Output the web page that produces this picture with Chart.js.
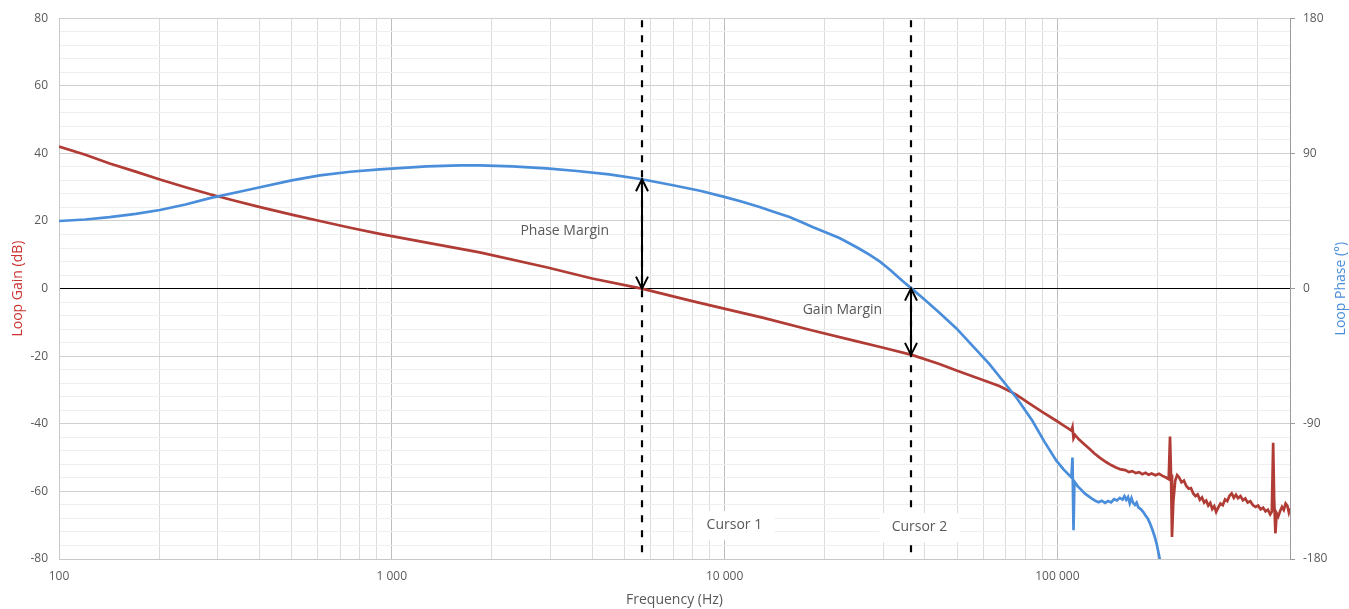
<!DOCTYPE html>
<html>
<head>
<meta charset="utf-8">
<title>Loop Gain / Loop Phase</title>
<script src="https://cdn.jsdelivr.net/npm/chart.js@4.4.0/dist/chart.umd.min.js"></script>
<style>
    body { margin: 0; background: #fff; overflow: hidden; }
    .wrap { width: 1349px; height: 609px; position: relative; }
</style>
</head>
<body>
<div class="wrap"><canvas id="bode"></canvas></div>
<script>
// Loop gain (dB)
const gainFreq = [100, 120, 142, 170, 201, 240, 284, 340, 402, 500, 608, 750, 920, 1274, 1837, 2915, 4000, 5640, 8000, 10040,
    13000, 18370, 25000, 30000, 36500, 44200, 50000, 58000, 66900, 75000, 82500, 90000, 99300, 104000, 108000, 110200,
    111000, 111800, 113000, 116000, 120000, 124800, 129000, 134000, 140000, 145000, 150000, 155000, 160000, 164000,
    168000, 172000, 176000, 180000, 184000, 188000, 192000, 197000, 202000, 207000, 212000, 216000, 218000, 219500,
    221000, 223000, 226000, 229000, 232000, 236000, 240000, 244000, 248000, 252000, 256000, 260000, 264000, 268000,
    272000, 276000, 280000, 284000, 288000, 292000, 296000, 300000, 304000, 309000, 314000, 319000, 324000, 329000,
    334000, 339000, 344000, 349000, 355000, 361000, 367000, 373000, 380000, 387000, 394000, 401000, 408000, 415000,
    422000, 429000, 436000, 441000, 445000, 448000, 452000, 456000, 461000, 467000, 473000, 479000, 485000, 491000,
    496000, 500000];
const gainDb = [42.0, 39.6, 37.0, 34.6, 32.3, 30.0, 27.9, 25.9, 24.1, 21.9, 20.0, 18.0, 16.2, 13.6, 10.7, 6.3, 3.0, 0.0, -3.7, -6.0,
    -8.6, -12.4, -15.6, -17.5, -19.6, -22.3, -24.3, -26.6, -28.8, -31.3, -34.0, -36.5, -39.1, -40.4, -41.4, -42.0,
    -41.0, -44.3, -43.3, -44.6, -45.9, -47.4, -48.7, -50.0, -51.3, -52.2, -52.9, -53.5, -53.7, -54.3,
    -54.0, -54.6, -54.3, -54.9, -54.5, -55.1, -54.7, -55.2, -54.8, -55.4, -55.9, -56.4, -43.8, -55.0,
    -73.5, -63.0, -56.8, -55.2, -55.8, -57.3, -56.8, -58.4, -59.2, -59.0, -60.6, -61.4, -60.9, -62.5,
    -61.8, -63.3, -62.7, -64.2, -63.4, -65.2, -64.4, -66.1, -64.9, -63.6, -64.1, -62.4, -62.9, -61.3,
    -60.6, -61.9, -61.0, -62.0, -61.4, -62.6, -62.1, -63.3, -62.9, -64.1, -64.6, -64.2, -65.3, -64.8,
    -65.9, -65.4, -66.8, -66.0, -45.6, -62.0, -72.4, -66.5, -67.4, -65.8, -64.6, -65.5, -63.6, -64.3,
    -66.2, -65.0];

// Loop phase (deg)
const phaseFreq = [100, 120, 142, 170, 201, 240, 284, 340, 402, 500, 608, 750, 920, 1274, 1600, 1837, 2300, 2915, 3600, 4500,
    5640, 7000, 8500, 10040, 11300, 12740, 14100, 15670, 17000, 18370, 20100, 22130, 23700, 25400, 27300, 29300, 31400,
    33600, 34900, 36500, 39870, 44220, 49740, 56340, 62500, 69800, 75840, 84100, 91400, 99300, 104500, 110200, 111000,
    111800, 112500, 115000, 118000, 121000, 124000, 127000, 130000, 133000, 136000, 139000, 142000, 145000, 148000,
    151000, 154000, 157000, 159000, 161000, 163000, 165000, 167000, 169000, 171000, 173000, 175000, 178000, 181000,
    184000, 187000, 190000, 193000, 196000, 199000, 202000, 205000, 208000];
const phaseDeg = [45.0, 46.0, 47.6, 49.8, 52.3, 56.0, 60.2, 64.0, 67.5, 72.0, 75.4, 77.8, 79.4, 81.4, 82.0, 82.0, 81.3, 80.0, 78.3, 76.0,
    72.8, 68.8, 65.0, 60.9, 57.8, 54.3, 51.0, 47.6, 44.4, 41.0, 37.5, 33.7, 30.2, 26.5, 22.4, 17.9, 12.6,
    6.8, 3.6, 0.0, -7.3, -16.0, -26.5, -39.5, -50.3, -63.5, -73.5, -88.0, -101.9, -114.5, -120.5, -125.7, -112.5,
    -160.8, -128.5, -131.5, -134.0, -136.5, -138.2, -139.8, -141.3, -142.2, -141.2, -142.6, -141.4, -142.3, -140.2,
    -141.0, -139.3, -140.5, -138.2, -140.6, -138.7, -143.0, -139.5, -142.8, -144.0, -142.5, -145.6, -146.8, -148.6,
    -151.0, -153.2, -156.5, -160.5, -165.0, -170.5, -177.5, -185.0, -192.0];

// Axes
const xLabelValues = [100, 1000, 10000, 100000];
const gainTicks = [-80, -60, -40, -20, 0, 20, 40, 60, 80];
const phaseTicks = [-180, -90, 0, 90, 180];

// Cursors and margins
const cursorFreqs = [5640, 36200];
const cursorLabels = ['Cursor 1', 'Cursor 2'];
const cursorLabelFreqs = [10700, 38500];
const cursorLabelGain = [-70, -70.6];
const phaseMarginDeg = 72.8;
const gainMarginDb = -19.6;
const marginLabels = ['Phase Margin', 'Gain Margin'];
const marginLabelFreqs = [3310, 22600];
const marginLabelGains = [17, -6.2];

const RED = '#b03c35';
const BLUE = '#4a8edb';
const TEXT = '#595959';
const FONT = "'Open Sans', 'DejaVu Sans', sans-serif";

// log grid: 1..9 x each decade
const xGridValues = [];
for (let d = 100; d <= 100000; d *= 10) {
    for (let m = 1; m <= 9; m++) {
        if (d * m <= 500000) xGridValues.push(d * m);
    }
}

function spaced(v) {
    return String(v).replace(/\B(?=(\d{3})+(?!\d))/g, ' ');
}

function drawArrow(ctx, x, y0, y1) {
    const dir = y1 > y0 ? 1 : -1;
    ctx.beginPath();
    ctx.moveTo(x, y0);
    ctx.lineTo(x, y1);
    // heads
    ctx.moveTo(x - 6, y0 + dir * 12);
    ctx.lineTo(x, y0);
    ctx.lineTo(x + 6, y0 + dir * 12);
    ctx.moveTo(x - 6, y1 - dir * 12);
    ctx.lineTo(x, y1);
    ctx.lineTo(x + 6, y1 - dir * 12);
    ctx.stroke();
}

const markupPlugin = {
    id: 'markup',
    afterDatasetsDraw(chart) {
        const { ctx, chartArea, scales } = chart;
        const xs = scales.x, yG = scales.yGain, yP = scales.yPhase;
        ctx.save();

        // cursor lines
        ctx.strokeStyle = '#000';
        ctx.lineWidth = 2.2;
        ctx.setLineDash([7, 8]);
        cursorFreqs.forEach(f => {
            const px = Math.round(xs.getPixelForValue(f));
            ctx.beginPath();
            ctx.moveTo(px, chartArea.top + 2);
            ctx.lineTo(px, chartArea.bottom);
            ctx.stroke();
        });
        ctx.setLineDash([]);

        // margin arrows
        ctx.lineWidth = 2;
        const c1 = Math.round(xs.getPixelForValue(cursorFreqs[0]));
        const c2 = Math.round(xs.getPixelForValue(cursorFreqs[1]));
        drawArrow(ctx, c1, yG.getPixelForValue(0), yP.getPixelForValue(phaseMarginDeg));
        drawArrow(ctx, c2, yP.getPixelForValue(0), yG.getPixelForValue(gainMarginDb));

        ctx.font = '14px ' + FONT;
        ctx.textAlign = 'center';
        ctx.textBaseline = 'middle';

        marginLabels.forEach((t, i) => {
            ctx.fillStyle = TEXT;
            ctx.fillText(t, xs.getPixelForValue(marginLabelFreqs[i]), yG.getPixelForValue(marginLabelGains[i]));
        });

        cursorLabels.forEach((t, i) => {
            const cx = xs.getPixelForValue(cursorLabelFreqs[i]);
            const cy = yG.getPixelForValue(cursorLabelGain[i]);
            ctx.fillStyle = '#fff';
            ctx.fillRect(cx - 40, cy - 14, 80, 29);
            ctx.fillStyle = TEXT;
            ctx.fillText(t, cx, cy);
        });

        // right axis title, reading bottom to top
        ctx.translate(yP.right - 8, (chartArea.top + chartArea.bottom) / 2);
        ctx.rotate(-Math.PI / 2);
        ctx.fillStyle = BLUE;
        ctx.fillText('Loop Phase (°)', 0, 0);
        ctx.restore();
    }
};

const ctx = document.getElementById('bode').getContext('2d');
const bode = new Chart(ctx, {
    type: 'line',
    data: {
        datasets: [
            {
                label: 'Loop Phase',
                data: phaseFreq.map((f, i) => ({ x: f, y: phaseDeg[i] })),
                yAxisID: 'yPhase',
                borderColor: BLUE,
                borderWidth: 2.7,
                pointRadius: 0,
                tension: 0
            },
            {
                label: 'Loop Gain',
                data: gainFreq.map((f, i) => ({ x: f, y: gainDb[i] })),
                yAxisID: 'yGain',
                borderColor: RED,
                borderWidth: 2.7,
                pointRadius: 0,
                tension: 0
            }
        ]
    },
    options: {
        responsive: true,
        maintainAspectRatio: false,
        animation: false,
        layout: { padding: { top: 15, left: 0, right: 0, bottom: 0 } },
        plugins: {
            legend: { display: false },
            tooltip: { enabled: false }
        },
        scales: {
            x: {
                type: 'logarithmic',
                min: 100,
                max: 500000,
                afterBuildTicks: (scale) => { scale.ticks = xGridValues.map(v => ({ value: v })); },
                afterFit: (scale) => { scale.height = 50; },
                ticks: {
                    autoSkip: false,
                    maxRotation: 0,
                    padding: 10,
                    color: TEXT,
                    font: { family: FONT, size: 12 },
                    callback: (v) => xLabelValues.includes(v) ? spaced(v) : ''
                },
                grid: {
                    drawTicks: false,
                    color: (c) => xLabelValues.includes(c.tick && c.tick.value) ? '#bdbdbd' : '#dcdcdc'
                },
                border: { color: '#c8c8c8' },
                title: {
                    display: true,
                    text: 'Frequency (Hz)',
                    color: TEXT,
                    font: { family: FONT, size: 14 },
                    padding: { top: 0, bottom: 1 }
                }
            },
            yGain: {
                type: 'linear',
                position: 'left',
                min: -80,
                max: 80,
                afterBuildTicks: (scale) => {
                    const t = [];
                    for (let v = -80; v <= 80; v += 4) t.push({ value: v });
                    scale.ticks = t;
                },
                afterFit: (scale) => { scale.width = 59; },
                ticks: {
                    autoSkip: false,
                    padding: 11,
                    color: TEXT,
                    font: { family: FONT, size: 12 },
                    callback: (v) => gainTicks.includes(v) ? String(v) : ''
                },
                grid: {
                    drawTicks: false,
                    color: (c) => {
                        const v = c.tick ? c.tick.value : null;
                        if (v === 0) return '#000';
                        return gainTicks.includes(v) ? '#d0d0d0' : '#efefef';
                    }
                },
                border: { color: '#c8c8c8' },
                title: {
                    display: true,
                    text: 'Loop Gain (dB)',
                    color: '#cc3333',
                    font: { family: FONT, size: 14 },
                    padding: { top: 10, bottom: 0 }
                }
            },
            yPhase: {
                type: 'linear',
                position: 'right',
                min: -180,
                max: 180,
                afterBuildTicks: (scale) => { scale.ticks = phaseTicks.map(v => ({ value: v })); },
                afterFit: (scale) => { scale.width = 59; },
                ticks: {
                    padding: 8,
                    color: TEXT,
                    font: { family: FONT, size: 12 }
                },
                grid: {
                    drawOnChartArea: false,
                    tickLength: 5,
                    color: '#9a9a9a'
                },
                border: { color: '#9a9a9a' }
            }
        }
    },
    plugins: [markupPlugin]
});
</script>
</body>
</html>
